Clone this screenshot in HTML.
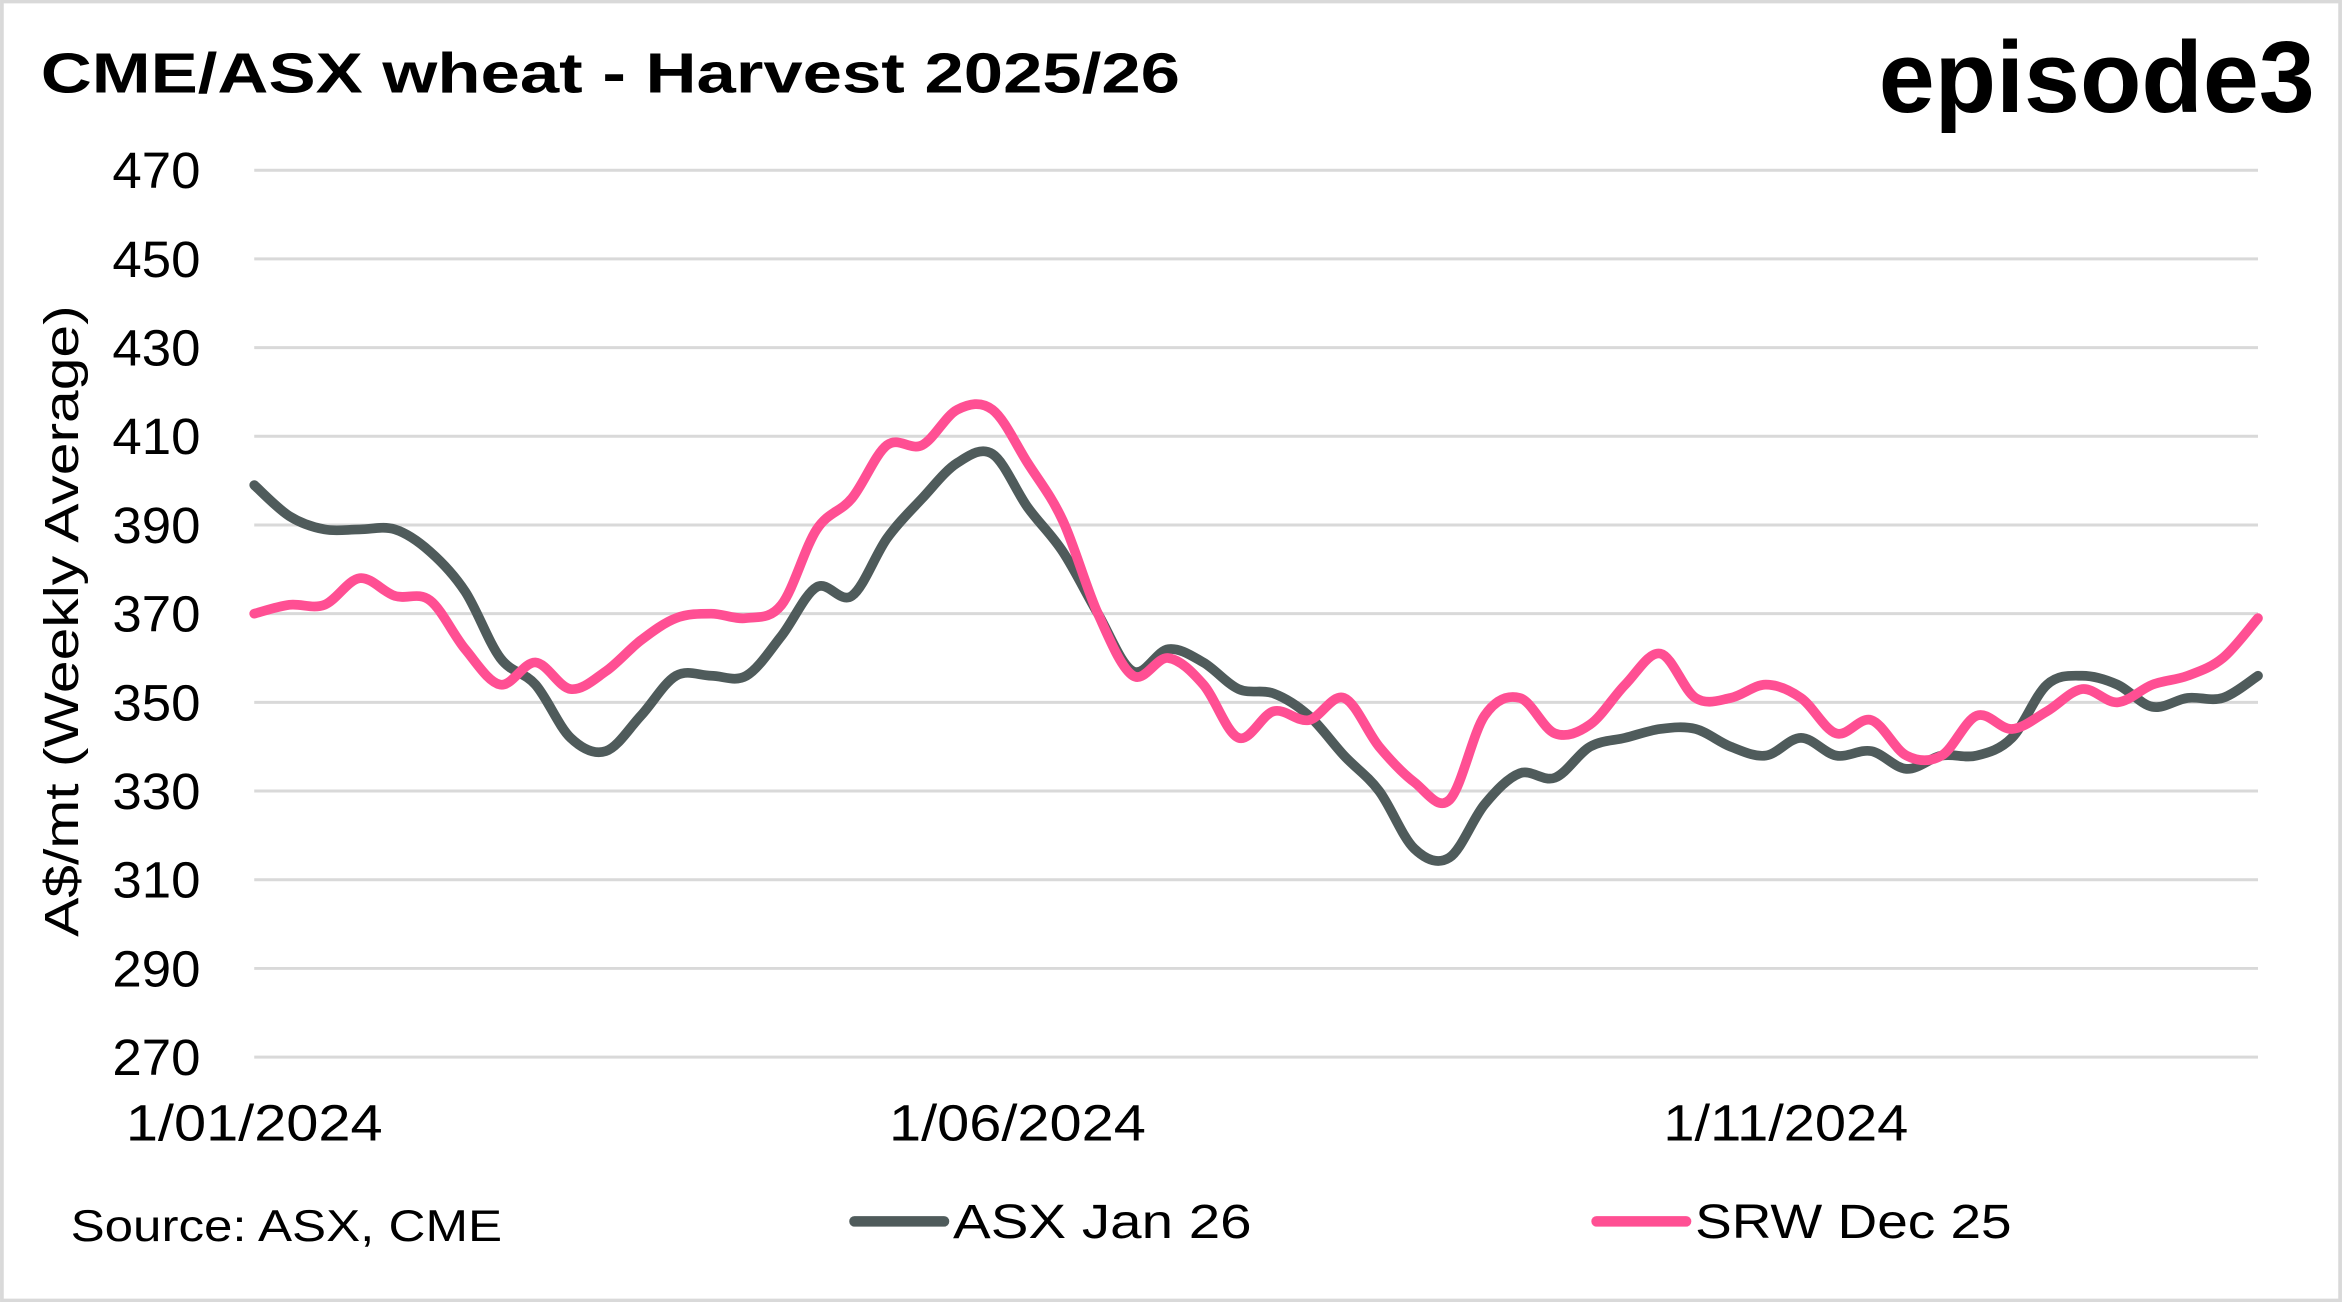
<!DOCTYPE html>
<html><head><meta charset="utf-8"><style>
html,body{margin:0;padding:0;background:#fff;}
svg{display:block;}
text{font-family:"Liberation Sans",sans-serif;}
</style></head><body>
<svg id="chart" width="2342" height="1302" viewBox="0 0 1568 872" xmlns="http://www.w3.org/2000/svg">
<rect x="1" y="1" width="1566" height="870" fill="#fff" stroke="#d9d9d9" stroke-width="2.5"/>
<text x="27" y="62" font-size="38" font-weight="bold" fill="#000" textLength="763" lengthAdjust="spacingAndGlyphs">CME/ASX wheat - Harvest 2025/26</text>
<text x="1258" y="75" font-size="68" font-weight="bold" fill="#000" textLength="292" lengthAdjust="spacingAndGlyphs">episode3</text>
<g id="grid"></g>
<g id="yticks"></g>
<g id="xticks"></g>
<text transform="translate(52,416) rotate(-90)" font-size="32" text-anchor="middle" fill="#000" textLength="423" lengthAdjust="spacingAndGlyphs">A$/mt (Weekly Average)</text>
<g id="series"></g>
<text x="47" y="831" font-size="30" fill="#000" textLength="289" lengthAdjust="spacingAndGlyphs">Source: ASX, CME</text>
<g>
<line x1="572" y1="818" x2="632" y2="818" stroke="#4f5b5b" stroke-width="7" stroke-linecap="round"/>
<text x="638" y="829" font-size="32" fill="#000" textLength="200" lengthAdjust="spacingAndGlyphs">ASX Jan 26</text></g>
<g>
<line x1="1069" y1="818" x2="1129" y2="818" stroke="#ff4f93" stroke-width="7" stroke-linecap="round"/>
<text x="1135" y="829" font-size="32" fill="#000" textLength="212" lengthAdjust="spacingAndGlyphs">SRW Dec 25</text></g>
</svg>
<script>
const yTicks=[270,290,310,330,350,370,390,410,430,450,470];
const xTickLabels=["1/01/2024","1/06/2024","1/11/2024"];
const xTickWeeks=[0,21.71,43.57];
const asx=[399,392,389,389,389,384,375,360,354,342,339,347,356,356,356,365,376,374,387,396,404,406,394,384,370,357,362,359,353,352,347,338,330,317,315,327,334,333,340,342,344,344,340,338,342,338,339,335,338,338,342,354,356,354,349,351,351,356];
const srw=[370,372,372,378,374,373,362,354,359,353,357,364,369,370,369,372,389,396,408,408,416,416,404,391,370,356,360,354,342,348,346,351,340,332,328,347,351,343,345,354,361,351,351,354,351,343,346,338,338,347,344,348,353,350,354,356,360,369];
const NS="http://www.w3.org/2000/svg";
const X0=170,X1=1512,Y0=708,Y1=114,VMIN=270,VMAX=470;
const xs=i=>X0+(X1-X0)*i/(asx.length-1);
const ys=v=>Y0-(v-VMIN)/(VMAX-VMIN)*(Y0-Y1);
const grid=document.getElementById('grid'),yt=document.getElementById('yticks'),xt=document.getElementById('xticks'),ser=document.getElementById('series');
yTicks.forEach(v=>{
 const l=document.createElementNS(NS,'line');
 
 
 l.setAttribute('x1',X0);l.setAttribute('x2',X1);l.setAttribute('y1',ys(v));l.setAttribute('y2',ys(v));
 l.setAttribute('stroke','#d9d9d9');l.setAttribute('stroke-width','2');grid.appendChild(l);
 const t=document.createElementNS(NS,'text');
 
 
 t.setAttribute('x',134);t.setAttribute('y',ys(v)+12);t.setAttribute('text-anchor','end');t.setAttribute('font-size','34');
 t.setAttribute('textLength','59');t.setAttribute('lengthAdjust','spacingAndGlyphs');
 t.textContent=v;yt.appendChild(t);
});
xTickLabels.forEach((s,k)=>{
 const t=document.createElementNS(NS,'text');
 
 
 t.setAttribute('x',xs(xTickWeeks[k]));t.setAttribute('y',764);t.setAttribute('text-anchor','middle');t.setAttribute('font-size','34');
 t.setAttribute('textLength',k==2?'164':'172');t.setAttribute('lengthAdjust','spacingAndGlyphs');
 t.textContent=s;xt.appendChild(t);
});
function path(vals){
 const p=vals.map((v,i)=>[xs(i),ys(v)]);
 let d='M'+p[0][0]+','+p[0][1];
 for(let i=0;i<p.length-1;i++){
  const a=p[Math.max(0,i-1)],b=p[i],c=p[i+1],e=p[Math.min(p.length-1,i+2)];
  const c1=[b[0]+(c[0]-a[0])/6,b[1]+(c[1]-a[1])/6],c2=[c[0]-(e[0]-b[0])/6,c[1]-(e[1]-b[1])/6];
  d+=' C'+c1+' '+c2+' '+c;
 }
 return d;
}
[[asx,'#4f5b5b','line-asx-jan-26'],[srw,'#ff4f93','line-srw-dec-25']].forEach(([v,c,n])=>{
 const pa=document.createElementNS(NS,'path');
 
 
 pa.setAttribute('d',path(v));pa.setAttribute('fill','none');pa.setAttribute('stroke',c);pa.setAttribute('stroke-width','6.5');pa.setAttribute('stroke-linejoin','round');pa.setAttribute('stroke-linecap','round');
 ser.appendChild(pa);
});
</script>
</body></html>
